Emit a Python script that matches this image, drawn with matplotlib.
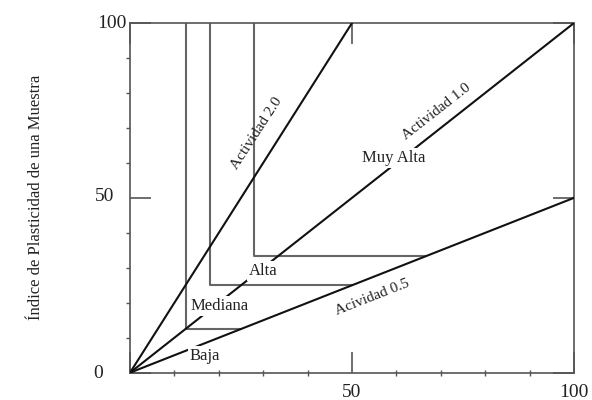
import matplotlib
matplotlib.use('Agg')
import matplotlib.pyplot as plt
from matplotlib.ticker import MultipleLocator, FixedLocator
from matplotlib.transforms import ScaledTranslation

plt.rcParams['font.family'] = ['Liberation Serif', 'DejaVu Serif']

# lineas de actividad (desde el origen)
act_x = [[0, 50], [0, 100], [0, 100]]
act_y = [[0, 100], [0, 100], [0, 50]]
act_txt = ['Actividad 2.0', 'Actividad 1.0', 'Acividad 0.5']
act_tx = [28.6, 69.0, 54.5]
act_ty = [68.5, 74.6, 21.6]
act_rot = [57, 38, 21.5]

# limites de las zonas (escalones)
zona_x = [[12.5, 12.5, 25], [18, 18, 50], [28, 28, 66.7]]
zona_y = [[100, 12.5, 12.5], [100, 25, 25], [100, 33.3, 33.3]]

# nombres de zonas
zonas = ['Baja', 'Mediana', 'Alta', 'Muy Alta']
zonas_x = [16.9, 20.2, 30.1, 59.5]
zonas_y = [4.8, 19.1, 29.1, 61.3]

ticks = [0, 50, 100]
xlabels = ['', '50', '100']
ylabels = ['0', '50', '100']

fig = plt.figure(figsize=(5.92, 4), dpi=100)
ax = fig.add_axes([130/592, 1 - 372.7/400, 444/592, 349.7/400])

for x, y in zip(zona_x, zona_y):
    ax.plot(x, y, color='#666666', lw=1.5, zorder=2)
for x, y in zip(act_x, act_y):
    ax.plot(x, y, color='#111111', lw=1.5, zorder=3)

for t, x, y, r in zip(act_txt, act_tx, act_ty, act_rot):
    ax.text(x, y, t, rotation=r, ha='center', va='center', fontsize=11,
            color='#222222', rotation_mode='anchor', zorder=4)
for t, x, y in zip(zonas, zonas_x, zonas_y):
    ax.text(x, y, t, ha='center', va='center', fontsize=12, color='#222222',
            bbox=dict(facecolor='white', edgecolor='none', pad=1.5), zorder=5)

ax.set_xlim(0, 100)
ax.set_ylim(0, 100)
for s in ax.spines.values():
    s.set_color('#555555')
    s.set_linewidth(1.2)

ax.xaxis.set_major_locator(FixedLocator(ticks))
ax.yaxis.set_major_locator(FixedLocator(ticks))
ax.set_xticklabels(xlabels)
ax.set_yticklabels(ylabels)
ax.xaxis.set_minor_locator(MultipleLocator(10))
ax.yaxis.set_minor_locator(MultipleLocator(10))
ax.tick_params(which='major', direction='in', length=15, width=1.2, color='#555555',
               top=True, right=True, labelsize=14, labelcolor='#222222')
ax.tick_params(axis='x', which='major', pad=8)
ax.tick_params(axis='y', which='major', pad=11)
ax.tick_params(axis='x', which='minor', direction='inout', length=4, width=1, color='#555555')
ax.tick_params(axis='y', which='minor', direction='out', length=3, width=1, color='#555555')

# desplazamiento individual de las etiquetas del eje y
shifts = [(-12, 1), (0, 3), (12, 2)]
for lab, (dx, dy) in zip(ax.get_yticklabels(), shifts):
    lab.set_transform(lab.get_transform() + ScaledTranslation(dx/100, dy/100, fig.dpi_scale_trans))

ax.set_ylabel('Índice de Plasticidad de una Muestra', fontsize=12, color='#222222')
ax.yaxis.set_label_coords(-0.194, 0.5)

fig.savefig('out.png', dpi=100)
